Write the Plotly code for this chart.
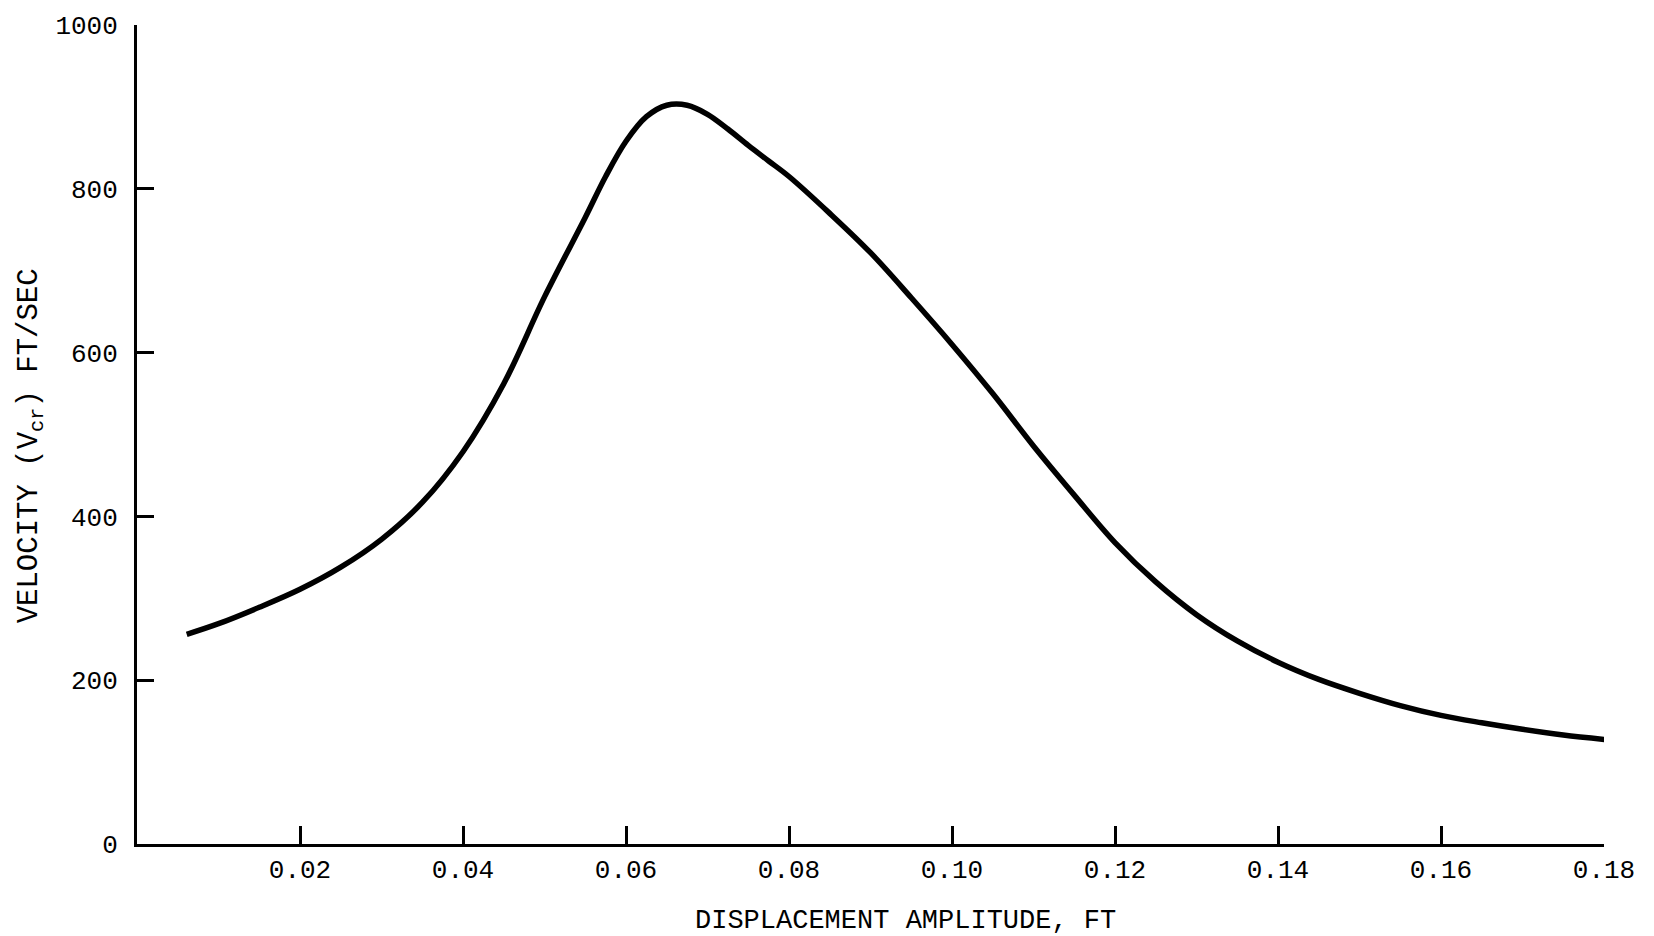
import plotly.graph_objects as go

# Displacement amplitude (ft) and critical velocity (ft/sec)
displacement = [0.0061, 0.010, 0.015, 0.020, 0.025, 0.030, 0.035, 0.040, 0.045,
                0.050, 0.055, 0.0575, 0.060, 0.0625, 0.065, 0.0675, 0.070, 0.0725,
                0.075, 0.0775, 0.080, 0.085, 0.090, 0.095, 0.100, 0.105, 0.110,
                0.115, 0.120, 0.125, 0.130, 0.135, 0.140, 0.145, 0.150, 0.155,
                0.160, 0.165, 0.170, 0.175, 0.1807]
velocity = [256, 269, 289, 311, 338, 372, 417, 479, 562,
            668, 765, 815, 858, 888, 902, 902, 891, 873,
            853, 834, 815, 770, 722, 667, 610, 550, 486,
            426, 368, 320, 280, 248, 222, 201, 184, 169,
            157, 148, 140, 133, 127]

x_tickvals = [0.02, 0.04, 0.06, 0.08, 0.10, 0.12, 0.14, 0.16, 0.18]
x_ticktext = ["0.02", "0.04", "0.06", "0.08", "0.10", "0.12", "0.14", "0.16", "0.18"]
y_tickvals = [0, 200, 400, 600, 800, 1000]
y_ticktext = ["0", "200", "400", "600", "800", "1000"]

x_title = "DISPLACEMENT AMPLITUDE, FT"
y_title = "VELOCITY (V<sub>cr</sub>) FT/SEC"

FONT = "Liberation Mono, DejaVu Sans Mono, monospace"

fig = go.Figure()
fig.add_trace(go.Scatter(
    x=displacement, y=velocity, mode="lines",
    line=dict(color="black", width=5.5, shape="spline", smoothing=1.0),
    showlegend=False, hoverinfo="skip",
))

fig.update_layout(
    width=1654, height=936,
    margin=dict(l=137, r=50, t=21, b=92),
    paper_bgcolor="white", plot_bgcolor="white",
    font=dict(family=FONT, color="black", size=26),
    showlegend=False,
    annotations=[
        dict(text=x_title, xref="paper", yref="paper", x=0.524, y=-0.094,
             xanchor="center", yanchor="middle", showarrow=False,
             font=dict(family=FONT, size=27, color="black")),
        dict(text=y_title, xref="paper", yref="paper", x=-0.072, y=0.486,
             xanchor="center", yanchor="middle", showarrow=False, textangle=-90,
             font=dict(family=FONT, size=29, color="black")),
    ],
)

fig.update_xaxes(
    range=[0, 0.18], tickvals=x_tickvals, ticktext=x_ticktext,
    showline=True, linecolor="black", linewidth=3, mirror=False,
    ticks="inside", ticklen=18, tickwidth=3, tickcolor="black",
    showgrid=False, zeroline=False, ticklabelstandoff=0,
    tickfont=dict(family=FONT, size=26, color="black"),
)
fig.update_yaxes(
    range=[0, 1000], tickvals=y_tickvals, ticktext=y_ticktext,
    showline=True, linecolor="black", linewidth=3, mirror=False,
    ticks="inside", ticklen=17, tickwidth=3, tickcolor="black",
    showgrid=False, zeroline=False, ticklabelstandoff=11,
    tickfont=dict(family=FONT, size=26, color="black"),
)

fig.write_html("out.html")
